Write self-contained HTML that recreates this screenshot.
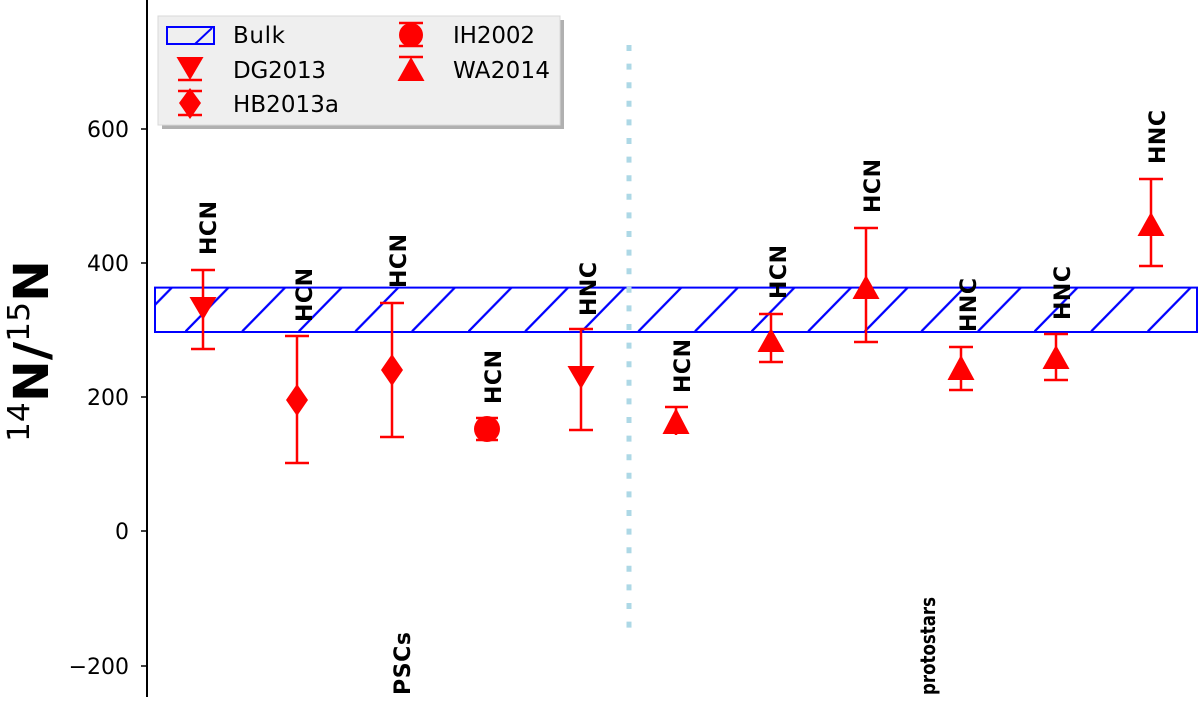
<!DOCTYPE html>
<html><head><meta charset="utf-8"><style>
html,body{margin:0;padding:0;background:#fff;}
svg{display:block;}
text{font-family:"DejaVu Sans","Liberation Sans",sans-serif;}
</style></head><body>
<svg width="1200" height="701" viewBox="0 0 1200 701" xmlns="http://www.w3.org/2000/svg">
<defs>
<pattern id="h" patternUnits="userSpaceOnUse" x="185" y="287.6" width="56.6" height="44.4">
<line x1="0" y1="44.4" x2="43.5" y2="0" stroke="#0000ff" stroke-width="2.3"/>
</pattern>
</defs>
<line x1="147" y1="0" x2="147" y2="697" stroke="#000" stroke-width="2"/>
<g stroke="#000" stroke-width="1.5">
<line x1="141" y1="129" x2="147" y2="129"/><line x1="141" y1="263" x2="147" y2="263"/>
<line x1="141" y1="397" x2="147" y2="397"/><line x1="141" y1="531" x2="147" y2="531"/>
<line x1="141" y1="666" x2="147" y2="666"/>
</g>
<g font-size="22" text-anchor="end" fill="#000">
<text x="129" y="137" textLength="42">600</text>
<text x="129" y="271" textLength="42">400</text>
<text x="129" y="405" textLength="42">200</text>
<text x="129" y="539">0</text>
<text x="129" y="674">−200</text>
</g>
<text transform="translate(48,442) rotate(-90)" font-weight="bold" font-size="48" textLength="182" lengthAdjust="spacingAndGlyphs"><tspan font-weight="normal" font-size="30" dy="-19">14</tspan><tspan dy="19">N/</tspan><tspan font-weight="normal" font-size="30" dy="-19">15</tspan><tspan dy="19">N</tspan></text>

<rect x="155" y="287.6" width="1042" height="44.4" fill="url(#h)" stroke="#0000ff" stroke-width="2"/>

<line x1="629" y1="45" x2="629" y2="630" stroke="#add8e6" stroke-width="5" stroke-dasharray="6 12.6"/>

<g stroke="#ff0000" stroke-width="2.5" fill="none">
<path d="M203 270V349M191 270H215M191 349H215"/>
<path d="M297 336V463M285 336H309M285 463H309"/>
<path d="M392 303V437M380 303H404M380 437H404"/>
<path d="M487 418V440M476 418H498M476 440H498"/>
<path d="M581 329V430M569 329H593M569 430H593"/>
<path d="M676 407V435M665 407H688"/>
<path d="M771 314V362M759 314H783M759 362H783"/>
<path d="M866 228V342M854 228H878M854 342H878"/>
<path d="M961 347V390M949 347H973M949 390H973"/>
<path d="M1056 334V380M1044 334H1068M1044 380H1068"/>
<path d="M1151 179V266M1139 179H1163M1139 266H1163"/>
</g>
<g fill="#ff0000">
<polygon points="189.5,297 216.5,297 203,320"/>
<polygon points="297,384 308,400 297,416 286,400"/>
<polygon points="392,354 403,370 392,386 381,370"/>
<circle cx="487" cy="429" r="13"/>
<polygon points="567.5,366 594.5,366 581,389"/>
<polygon points="676,408 689.5,434 662.5,434"/>
<polygon points="771,328 784.5,352 757.5,352"/>
<polygon points="866,275 879.5,299 852.5,299"/>
<polygon points="961,355 974.5,380 947.5,380"/>
<polygon points="1056,345 1069.5,369 1042.5,369"/>
<polygon points="1151,212 1164.5,236 1137.5,236"/>
</g>
<g font-weight="bold" font-size="22" fill="#000" lengthAdjust="spacingAndGlyphs">
<text transform="translate(216,255) rotate(-90)" textLength="54">HCN</text>
<text transform="translate(312,322) rotate(-90)" textLength="54">HCN</text>
<text transform="translate(406,288) rotate(-90)" textLength="54">HCN</text>
<text transform="translate(501,404) rotate(-90)" textLength="54">HCN</text>
<text transform="translate(596,316) rotate(-90)" textLength="54">HNC</text>
<text transform="translate(690,393) rotate(-90)" textLength="54">HCN</text>
<text transform="translate(786,299) rotate(-90)" textLength="54">HCN</text>
<text transform="translate(880,213) rotate(-90)" textLength="54">HCN</text>
<text transform="translate(976,332) rotate(-90)" textLength="54">HNC</text>
<text transform="translate(1070,320) rotate(-90)" textLength="54">HNC</text>
<text transform="translate(1165,164) rotate(-90)" textLength="54">HNC</text>
<text transform="translate(410,695) rotate(-90)" textLength="63">PSCs</text>
</g>
<text transform="translate(935,695) rotate(-90)" font-weight="bold" font-size="20" fill="#000" textLength="98" lengthAdjust="spacingAndGlyphs">protostars</text>

<rect x="162" y="20" width="402" height="109" fill="#b0b0b0"/>
<rect x="158" y="16" width="402" height="109" fill="#efefef" stroke="#d8d8d8" stroke-width="1"/>
<rect x="167" y="27" width="47" height="17" fill="none" stroke="#0000ff" stroke-width="2"/>
<line x1="195" y1="44" x2="212" y2="28" stroke="#0000ff" stroke-width="2"/>
<g stroke="#ff0000" stroke-width="2.5">
<path d="M178 80H202M178 91H202M178 115H202"/>
<path d="M399 23H423M399 46H423M399 57H423"/>
</g>
<g fill="#ff0000">
<polygon points="176.5,57 203.5,57 190,80"/>
<polygon points="190,88 201,103 190,119 179,103"/>
<circle cx="411" cy="35" r="12"/>
<polygon points="411,57 424.5,81 397.5,81"/>
</g>
<g font-size="23" fill="#000" lengthAdjust="spacingAndGlyphs">
<text x="233" y="43" textLength="52">Bulk</text>
<text x="233" y="78" textLength="93">DG2013</text>
<text x="233" y="112" textLength="106">HB2013a</text>
<text x="453" y="43" textLength="82">IH2002</text>
<text x="453" y="78" textLength="97">WA2014</text>
</g>
</svg>
</body></html>
